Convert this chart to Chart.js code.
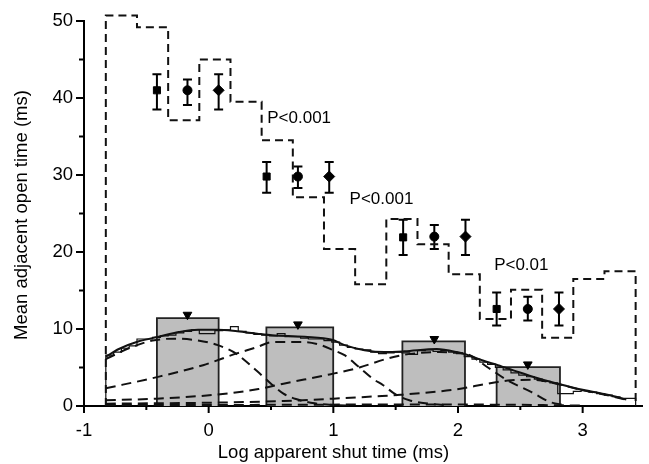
<!doctype html>
<html lang="en">
<head>
<meta charset="utf-8">
<title>Mean adjacent open time</title>
<script src="https://cdn.jsdelivr.net/npm/chart.js@4.4.0/dist/chart.umd.min.js"></script>
<style>
  html, body { margin: 0; padding: 0; background: #fff; }
  #wrap { width: 649px; height: 464px; }
</style>
</head>
<body>
<div id="wrap"><canvas id="chart"></canvas></div>
<script>
// dashed step line: bin edges (log ms) and mean adjacent open time per bin
var stepEdges = [-0.825, -0.575, -0.325, -0.075, 0.175, 0.425, 0.675, 0.925, 1.175, 1.425, 1.675, 1.925, 2.175, 2.425, 2.675, 2.925, 3.175, 3.425];
var stepMeans = [50.7, 49.2, 37.1, 45.0, 39.5, 34.5, 27.1, 20.4, 15.8, 24.3, 21.0, 17.1, 11.3, 15.1, 8.85, 16.5, 17.5];

// grouped means +- error (squares, circles, diamonds)
var sqX = [-0.415, 0.465, 1.56, 2.31];
var sqY = [41, 29.8, 21.9, 12.6];
var sqLo = [38.5, 27.7, 19.6, 10.45];
var sqHi = [43.1, 31.7, 24.2, 14.75];
var ciX = [-0.17, 0.716, 1.81, 2.56];
var ciY = [41, 29.8, 22, 12.6];
var ciLo = [39.1, 28.3, 20.4, 11.1];
var ciHi = [42.4, 31.1, 23.5, 14.2];
var diX = [0.08, 0.967, 2.06, 2.81];
var diY = [41, 29.8, 22, 12.6];
var diLo = [38.5, 27.7, 19.6, 10.45];
var diHi = [43.1, 31.7, 24.2, 14.75];

// gray bars and the triangles above them
var barLeft = [-0.415, 0.463, 1.554, 2.31];
var barRight = [0.08, 0.999, 2.056, 2.818];
var barHeight = [11.4, 10.2, 8.4, 5.05];
var triX = [-0.17, 0.716, 1.81, 2.56];
var triY = [11.85, 10.6, 8.7, 5.4];

// fine shut time histogram
var histStart = -0.825;
var histBin = 0.0625;
var histVals = [6.6, 7.0, 7.5, 7.8, 8.7, 8.7, 8.9, 9.1, 9.2, 9.5,
  9.7, 9.9, 9.4, 9.4, 9.8, 9.9, 10.3, 9.7, 9.5, 9.3,
  9.2, 9.1, 9.4, 9.0, 9.0, 8.8, 8.7, 8.7, 8.5, 8.3,
  7.9, 7.6, 7.4, 7.3, 7.0, 6.8, 6.9, 7.0, 6.9, 6.7,
  7.2, 7.3, 7.1, 7.2, 7.0, 6.8, 6.4, 6.1, 5.7, 5.4,
  5.0, 4.7, 4.3, 4.0, 3.8, 3.5, 3.2, 3.0, 1.6, 1.6,
  1.9, 2.0, 1.8, 1.6, 1.4, 1.2, 1.0, 1.0];

// fitted total and its components
var totalX = [-0.825, -0.72, -0.56, -0.40, -0.24, -0.085, 0.07, 0.23, 0.39, 0.51, 0.77, 0.99, 1.09, 1.25, 1.41, 1.57, 1.83, 1.99, 2.1, 2.2, 2.32, 2.45, 2.6, 2.8, 3.0, 3.2, 3.35];
var totalY = [6.4, 7.4, 8.4, 9.0, 9.6, 9.9, 9.9, 9.7, 9.4, 9.2, 9.0, 8.6, 7.9, 7.25, 7.0, 7.1, 7.4, 7.0, 6.5, 5.9, 5.3, 4.6, 3.8, 2.9, 2.1, 1.45, 0.85];
var compAX = [-0.825, -0.61, -0.45, -0.27, -0.085, 0.074, 0.22, 0.39, 0.5, 0.6, 0.7, 0.85, 1.0, 1.15];
var compAY = [6.1, 7.7, 8.5, 8.75, 8.5, 7.9, 6.8, 4.5, 2.9, 1.6, 0.9, 0.35, 0.12, 0.03];
var compBX = [-0.825, -0.415, -0.045, 0.22, 0.38, 0.51, 0.77, 0.9, 1.0, 1.09, 1.21, 1.32, 1.40, 1.50, 1.61, 1.72, 1.9];
var compBY = [2.3, 3.75, 5.3, 6.8, 7.6, 8.3, 8.3, 7.9, 7.25, 6.6, 5.0, 3.5, 2.7, 1.5, 0.74, 0.4, 0.1];
var compCX = [-0.825, -0.415, 0.074, 0.40, 0.60, 0.97, 1.21, 1.42, 1.55, 1.7, 1.85, 1.98, 2.08, 2.24, 2.40, 2.59, 2.74, 2.85];
var compCY = [0.74, 0.95, 1.5, 2.2, 2.9, 4.1, 5.0, 6.1, 6.6, 6.9, 7.0, 6.9, 6.7, 5.0, 3.3, 1.8, 0.5, 0.15];
var compDX = [-0.825, 0.074, 0.6, 1.0, 1.34, 1.54, 1.98, 2.24, 2.4, 2.6, 2.8, 3.0, 3.2, 3.35];
var compDY = [0.3, 0.44, 0.65, 0.95, 1.25, 1.45, 2.15, 2.9, 3.3, 3.4, 2.85, 2.05, 1.4, 0.8];
var compEX = [-0.825, 0.5, 1.5, 2.5, 3.0];
var compEY = [0.12, 0.15, 0.2, 0.15, 0.05];

// significance notes
var noteText = ['P<0.001', 'P<0.001', 'P<0.01'];
var noteX = [0.47, 1.13, 2.29];
var noteY = [37.3, 26.9, 18.3];

var xTitle = 'Log apparent shut time (ms)';
var yTitle = 'Mean adjacent open time (ms)';
var xTickMarks = [-1, -0.5, 0, 0.5, 1, 1.5, 2, 2.5, 3];
var yTickMarks = [0, 5, 10, 15, 20, 25, 30, 35, 40, 45, 50];

function zip(xs, ys) {
  return xs.map(function (x, i) { return { x: x, y: ys[i] }; });
}

// histogram outline as explicit corners
function stepOutline(edges, vals) {
  var pts = [{ x: edges[0], y: 0 }];
  for (var i = 0; i < vals.length; i++) {
    pts.push({ x: edges[i], y: vals[i] });
    pts.push({ x: edges[i + 1], y: vals[i] });
  }
  pts.push({ x: edges[edges.length - 1], y: 0 });
  return pts;
}

var histEdges = [];
for (var k = 0; k <= histVals.length; k++) histEdges.push(histStart + k * histBin);

function curve(xs, ys, dashed) {
  return {
    data: zip(xs, ys),
    borderColor: '#111',
    borderWidth: 2,
    borderDash: dashed ? [10, 6] : [],
    pointRadius: 0,
    cubicInterpolationMode: 'monotone',
    fill: false
  };
}

function markers(xs, ys, style, r) {
  return {
    data: zip(xs, ys),
    showLine: false,
    pointStyle: style,
    pointRadius: r,
    pointBackgroundColor: '#000',
    pointBorderColor: '#000',
    pointBorderWidth: 1
  };
}

var datasets = [
  markers(sqX, sqY, 'rect', 5),
  markers(ciX, ciY, 'circle', 4.5),
  markers(diX, diY, 'rectRot', 5.5),
  Object.assign(markers(triX, triY, 'triangle', 5), { pointRotation: 180 }),
  {
    data: stepOutline(stepEdges, stepMeans),
    borderColor: '#111',
    borderWidth: 2,
    borderDash: [8, 5],
    pointRadius: 0,
    tension: 0,
    clip: false
  },
  curve(totalX, totalY, false),
  curve(compAX, compAY, true),
  curve(compBX, compBY, true),
  curve(compCX, compCY, true),
  curve(compDX, compDY, true),
  curve(compEX, compEY, true),
  {
    data: stepOutline(histEdges, histVals),
    borderColor: '#111',
    borderWidth: 1.2,
    pointRadius: 0,
    tension: 0
  }
];

barLeft.forEach(function (l, i) {
  datasets.push({
    data: [{ x: l, y: 0 }, { x: l, y: barHeight[i] }, { x: barRight[i], y: barHeight[i] }, { x: barRight[i], y: 0 }],
    borderColor: '#222',
    borderWidth: 1.8,
    backgroundColor: '#bebebe',
    fill: 'origin',
    pointRadius: 0,
    tension: 0
  });
});

function errorBars(ctx, sx, sy, xs, lo, hi) {
  for (var i = 0; i < xs.length; i++) {
    var px = sx.getPixelForValue(xs[i]);
    var y1 = sy.getPixelForValue(lo[i]);
    var y2 = sy.getPixelForValue(hi[i]);
    ctx.beginPath();
    ctx.moveTo(px, y1); ctx.lineTo(px, y2);
    ctx.moveTo(px - 4.5, y1); ctx.lineTo(px + 4.5, y1);
    ctx.moveTo(px - 4.5, y2); ctx.lineTo(px + 4.5, y2);
    ctx.stroke();
  }
}

var extras = {
  id: 'extras',
  beforeDatasetsDraw: function (chart) {
    var ctx = chart.ctx, sx = chart.scales.x, sy = chart.scales.y;
    ctx.save();
    ctx.strokeStyle = '#000';
    ctx.lineWidth = 2;
    errorBars(ctx, sx, sy, sqX, sqLo, sqHi);
    errorBars(ctx, sx, sy, ciX, ciLo, ciHi);
    errorBars(ctx, sx, sy, diX, diLo, diHi);
    ctx.restore();
  },
  afterDraw: function (chart) {
    var ctx = chart.ctx, sx = chart.scales.x, sy = chart.scales.y, area = chart.chartArea;
    ctx.save();
    ctx.strokeStyle = '#000';
    ctx.lineWidth = 2;
    ctx.beginPath();
    xTickMarks.forEach(function (v) {
      var px = sx.getPixelForValue(v);
      var len = (v % 1 === 0) ? 7 : 4;
      ctx.moveTo(px, area.bottom); ctx.lineTo(px, area.bottom + len);
    });
    yTickMarks.forEach(function (v) {
      var py = sy.getPixelForValue(v);
      var len = (v % 10 === 0) ? 8 : 5;
      ctx.moveTo(area.left, py); ctx.lineTo(area.left - len, py);
    });
    ctx.stroke();

    ctx.fillStyle = '#000';
    ctx.font = '17px "Liberation Sans", Arial, sans-serif';
    ctx.textAlign = 'left';
    ctx.textBaseline = 'middle';
    noteText.forEach(function (t, i) {
      ctx.fillText(t, sx.getPixelForValue(noteX[i]), sy.getPixelForValue(noteY[i]));
    });

    // axis titles
    ctx.font = '18.5px "Liberation Sans", Arial, sans-serif';
    ctx.textAlign = 'center';
    ctx.textBaseline = 'alphabetic';
    ctx.fillText(xTitle, 333.5, 458);
    ctx.translate(27, 215);
    ctx.rotate(-Math.PI / 2);
    ctx.fillText(yTitle, 0, 0);
    ctx.restore();
  }
};

Chart.defaults.font.family = '"Liberation Sans", Arial, sans-serif';
Chart.defaults.font.size = 18.5;
Chart.defaults.color = '#000';

new Chart(document.getElementById('chart').getContext('2d'), {
  type: 'line',
  data: { datasets: datasets },
  options: {
    responsive: true,
    maintainAspectRatio: false,
    animation: false,
    layout: { padding: { top: 21, right: 0, bottom: 0, left: 0 } },
    plugins: { legend: { display: false }, tooltip: { enabled: false } },
    scales: {
      x: {
        type: 'linear',
        min: -1,
        max: 3.48,
        afterFit: function (s) { s.height = 58; },
        grid: { display: false },
        border: { display: true, color: '#000', width: 2 },
        ticks: { stepSize: 1, includeBounds: false, padding: 6, maxRotation: 0, autoSkip: false }
      },
      y: {
        type: 'linear',
        min: 0,
        max: 50,
        afterFit: function (s) { s.width = 84; },
        grid: { display: false },
        border: { display: true, color: '#000', width: 2 },
        ticks: { stepSize: 10, padding: 3 }
      }
    }
  },
  plugins: [extras]
});
</script>
</body>
</html>
